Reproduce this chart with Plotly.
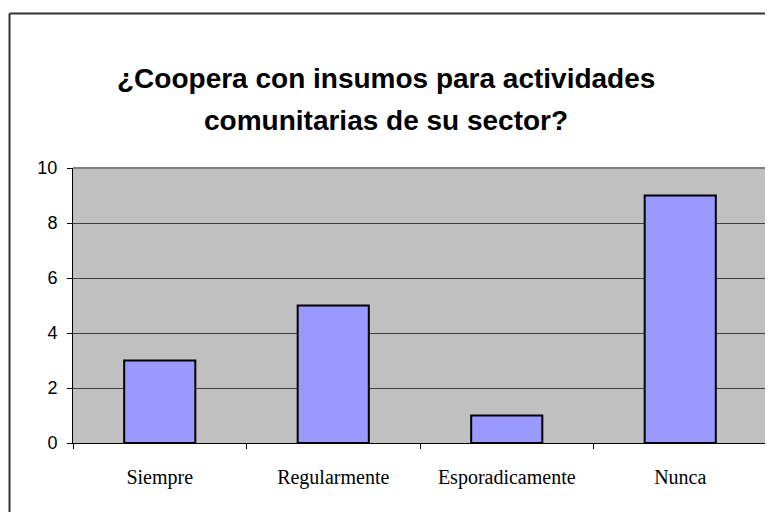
import plotly.graph_objects as go

categories = ["Siempre", "Regularmente", "Esporadicamente", "Nunca"]
values = [3, 5, 1, 9]
y_ticks = [0, 2, 4, 6, 8, 10]
title_lines = ["¿Coopera con insumos para actividades", "comunitarias de su sector?"]

# page body has an 8px default margin; work in reference pixel coords and shift
OFF = 8
W, H = 773 - OFF, 512 - OFF
L, R, T, B = 73 - OFF, 767 - OFF, 167.5 - OFF, 443.5 - OFF
pw, ph = R - L, B - T

def px(x):
    return (x - OFF - L) / pw

def py(y):
    return (B - (y - OFF)) / ph

fig = go.Figure()
fig.add_trace(go.Bar(
    x=categories, y=values,
    marker=dict(color="#9999FF", line=dict(color="#000000", width=2)),
    hoverinfo="x+y",
))

title_font = dict(family="Liberation Sans, Arial, sans-serif", size=28, color="#000000")
annotations = [
    dict(text="<b>" + title_lines[0] + "</b>", xref="paper", yref="paper",
         x=px(386), y=py(78), xanchor="center", yanchor="middle", showarrow=False, font=title_font),
    dict(text="<b>" + title_lines[1] + "</b>", xref="paper", yref="paper",
         x=px(386), y=py(120), xanchor="center", yanchor="middle", showarrow=False, font=title_font),
]

fig.update_layout(
    width=W, height=H,
    margin=dict(l=L, r=W - R, t=T, b=H - B, pad=0),
    paper_bgcolor="#FFFFFF",
    plot_bgcolor="#C0C0C0",
    bargap=0.59,
    showlegend=False,
    annotations=annotations,
    xaxis=dict(
        type="category",
        tickson="boundaries",
        ticks="outside", ticklen=5, tickcolor="#000000", tickwidth=1,
        showline=True, linecolor="#000000", linewidth=1,
        showgrid=False,
        tickfont=dict(family="Liberation Serif, Times New Roman, serif", size=20, color="#000000"),
        ticklabelstandoff=16,
    ),
    yaxis=dict(
        range=[0, 10],
        tickvals=y_ticks,
        ticks="outside", ticklen=5, tickcolor="#000000", tickwidth=1,
        showline=True, linecolor="#000000", linewidth=1,
        showgrid=True, gridcolor="#404040", gridwidth=1,
        zeroline=False,
        tickfont=dict(family="Liberation Sans, Arial, sans-serif", size=18, color="#000000"),
        ticklabelstandoff=6,
    ),
    shapes=[
        # plot area border top/right
        dict(type="line", xref="paper", yref="paper", x0=0, x1=1, y0=1, y1=1,
             line=dict(color="#808080", width=2)),
        dict(type="line", xref="paper", yref="paper", x0=1, x1=1, y0=0, y1=1,
             line=dict(color="#808080", width=1)),
        # outer chart frame (left and top)
        dict(type="line", xref="paper", yref="paper", x0=px(9.5), x1=px(9.5), y0=py(520), y1=py(12.5),
             line=dict(color="#333333", width=2)),
        dict(type="line", xref="paper", yref="paper", x0=px(9.5), x1=px(780), y0=py(12.5), y1=py(12.5),
             line=dict(color="#333333", width=2)),
    ],
)

fig.write_html("out.html")
